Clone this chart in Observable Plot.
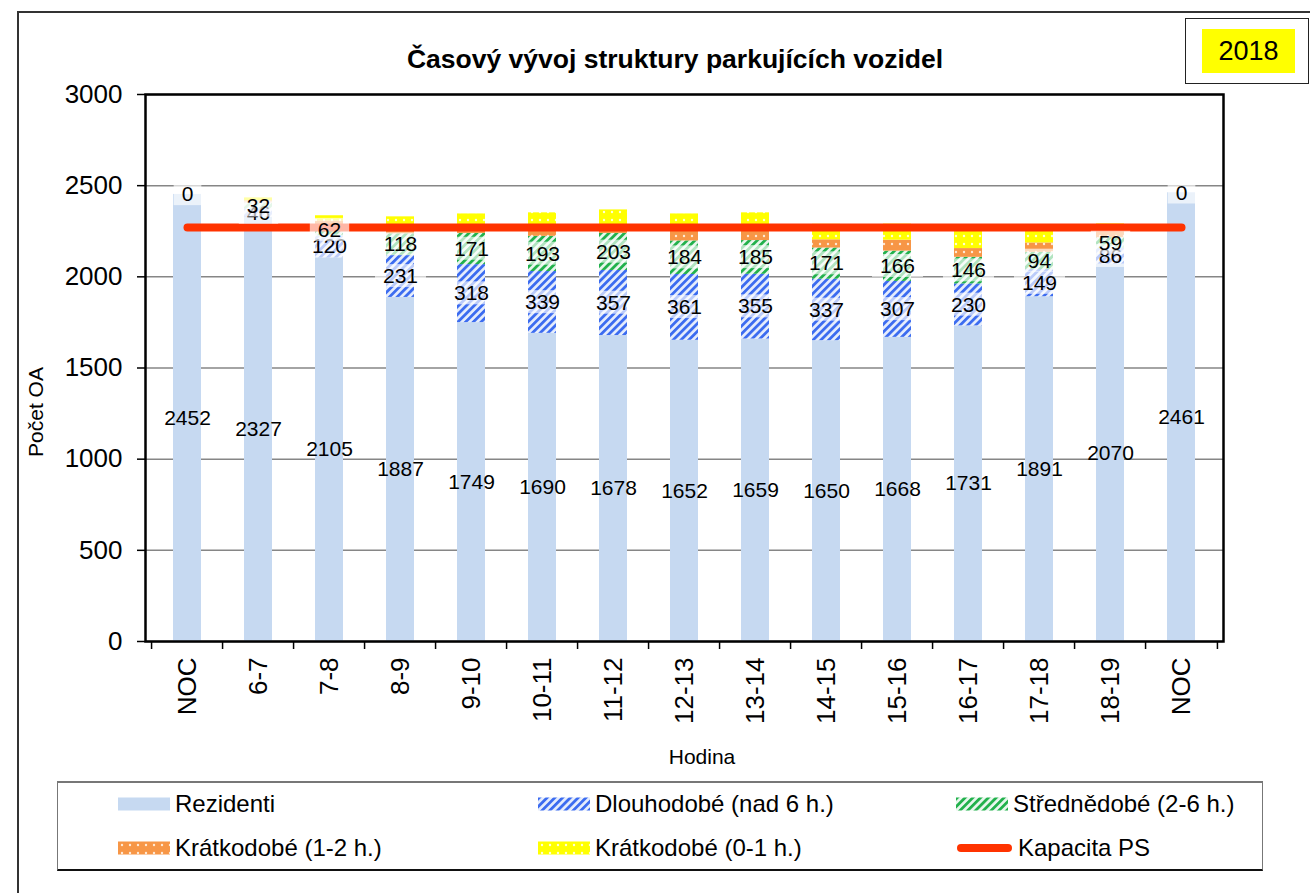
<!DOCTYPE html>
<html>
<head>
<meta charset="utf-8">
<script src="https://cdn.jsdelivr.net/npm/d3@7"></script>
<script src="https://cdn.jsdelivr.net/npm/@observablehq/plot@0.6"></script>
<style>
  html, body { margin: 0; padding: 0; background: #fff; }
  body { font-family: "Liberation Sans", Arial, sans-serif; color: #000; }
  #wrap { position: relative; width: 1310px; height: 893px; overflow: hidden; }
  #chart { position: absolute; left: 0; top: 0; }
  .abs { position: absolute; white-space: nowrap; }
  #outer { position: absolute; left: 17px; top: 11px; width: 1400px; height: 1000px; border-left: 2px solid #333; border-top: 2px solid #333; }
  #title { left: 675px; top: 44px; transform: translateX(-50%); font-weight: bold; font-size: 26.5px; }
  #yearbox { left: 1185px; top: 18px; width: 122px; height: 64px; border: 1.5px solid #222; background: #fff; }
  #yearfill { position: absolute; left: 16px; top: 10px; width: 93px; height: 44px; background: #ffff00; font-size: 27px; line-height: 44px; text-align: center; }
  #xtitle { left: 702px; top: 745px; transform: translateX(-50%); font-size: 21px; }
  #ytitle { left: 36px; top: 412px; transform: translate(-50%, -50%) rotate(-90deg); font-size: 21px; }
  #legend { left: 57px; top: 781px; width: 1204px; height: 86px; border-top: 2px solid #777; border-bottom: 2px solid #111; border-left: 1px solid #777; border-right: 1px solid #777; }
  .item { position: absolute; display: flex; align-items: center; font-size: 24px; }
  .item svg { margin-right: 5px; }
</style>
</head>
<body>
<svg width="0" height="0" style="position:absolute">
  <defs>
    <pattern id="pDl" width="5.5" height="5.5" patternUnits="userSpaceOnUse" patternTransform="rotate(45)">
      <rect width="5.5" height="5.5" fill="#e6edfc"/>
      <rect width="2.8" height="5.5" fill="#3c6cf0"/>
    </pattern>
    <pattern id="pSt" width="5.5" height="5.5" patternUnits="userSpaceOnUse" patternTransform="rotate(45)">
      <rect width="5.5" height="5.5" fill="#e9f7ee"/>
      <rect width="2.8" height="5.5" fill="#22b14c"/>
    </pattern>
    <pattern id="pK12" width="8" height="8" patternUnits="userSpaceOnUse">
      <rect width="8" height="8" fill="#f79646"/>
      <circle cx="4" cy="4" r="1.2" fill="#ffe9d6"/>
    </pattern>
    <pattern id="pK01" width="8" height="8" patternUnits="userSpaceOnUse">
      <rect width="8" height="8" fill="#ffff00"/>
      <circle cx="4" cy="4" r="1.2" fill="#ffffd8"/>
    </pattern>
  </defs>
</svg>
<div id="wrap">
  <div id="outer"></div>
  <div id="chart"></div>
</div>
<script>
// ---- data ----
const hours = ["NOC", "6-7", "7-8", "8-9", "9-10", "10-11", "11-12", "12-13", "13-14", "14-15", "15-16", "16-17", "17-18", "18-19", "NOC"];
const seriesNames = ["Rezidenti", "Dlouhodobé (nad 6 h.)", "Střednědobé (2-6 h.)", "Krátkodobé (1-2 h.)", "Krátkodobé (0-1 h.)"];
const rezidenti    = [2452, 2327, 2105, 1887, 1749, 1690, 1678, 1652, 1659, 1650, 1668, 1731, 1891, 2070, 2461];
const dlouhodobe   = [0, 46, 120, 231, 318, 339, 357, 361, 355, 337, 307, 230, 149, 86, 0];
const strednedobe  = [0, 32, 62, 118, 171, 193, 203, 184, 185, 171, 166, 146, 94, 59, 0];
const kratkodobe12 = [0, 12, 20, 48, 27, 41, 36, 71, 74, 45, 60, 48, 52, 40, 0];
const kratkodobe01 = [0, 16, 28, 45, 80, 88, 93, 77, 78, 85, 88, 100, 80, 35, 0];
const kapacitaPS = 2270;
const kapacitaName = "Kapacita PS";
const yTicks = [0, 500, 1000, 1500, 2000, 2500, 3000];
const titleText = "Časový vývoj struktury parkujících vozidel";
const yearText = "2018";
const xTitle = "Hodina";
const yTitle = "Počet OA";

// ---- styles ----
const fills = ["#c6d9f1", "url(#pDl)", "url(#pSt)", "url(#pK12)", "url(#pK01)"];
const lineColor = "#ff3300";

const allValues = [rezidenti, dlouhodobe, strednedobe, kratkodobe12, kratkodobe01];
const table = [];
seriesNames.forEach((s, si) => {
  hours.forEach((h, i) => table.push({key: i, hour: h, series: s, si, value: allValues[si][i]}));
});
const capData = hours.map((h, i) => ({key: i, value: kapacitaPS}));

const W = 1310, H = 893, mL = 145, mR = 87, mT = 94, mB = 252;
const step = (W - mL - mR) / hours.length;
const font = "Liberation Sans, Arial, sans-serif";

function labelMark(si, show, cls) {
  return Plot.text(table, Plot.stackY({
    x: "key", y: "value", z: "series",
    text: d => (d.si === si && show(d)) ? String(d.value) : "",
    fontSize: 21, fill: "#000", className: cls
  }));
}

const plot = Plot.plot({
  width: W, height: H,
  marginLeft: mL, marginRight: mR, marginTop: mT, marginBottom: mB,
  style: {fontFamily: font, background: "transparent", overflow: "visible", color: "#000"},
  x: {type: "band", domain: d3.range(hours.length), paddingInner: 0.61, paddingOuter: 0.305},
  y: {domain: [0, 3000]},
  color: {type: "ordinal", domain: seriesNames, range: fills},
  marks: [
    Plot.gridY(yTicks, {stroke: "#868686", strokeOpacity: 1, strokeWidth: 1.5}),
    Plot.barY(table, Plot.stackY({x: "key", y: "value", z: "series", fill: "series"})),
    Plot.lineY(capData, {x: "key", y: "value", stroke: lineColor, strokeWidth: 8, strokeLinecap: "round"}),
    Plot.frame({stroke: "#000", strokeWidth: 2.5}),
    Plot.axisY(yTicks, {tickSize: 8, tickPadding: 15, fontSize: 26, label: null, strokeWidth: 1.5, tickFormat: d => String(d)}),
    Plot.axisX(d3.range(hours.length), {tickSize: 0, tickPadding: 16, tickRotate: -90, fontSize: 26, tickFormat: i => hours[i], label: null}),
    Plot.axisX(d3.range(hours.length), {tickSize: 8, tickFormat: () => "", dx: -step / 2, label: null, strokeWidth: 1.5}),
    Plot.axisX([hours.length - 1], {tickSize: 8, tickFormat: () => "", dx: step / 2, label: null, strokeWidth: 1.5}),
    labelMark(0, d => true, "lbl0"),
    labelMark(1, d => true, "lblbox1"),
    labelMark(2, d => d.value > 0, "lblbox2")
  ]
});
document.getElementById("chart").appendChild(plot);

// translucent label boxes behind the stacked-segment data labels
Array.from(plot.querySelectorAll("g"))
  .filter(g => /lblbox[0-9]/.test(g.getAttribute("class") || ""))
  .forEach(g => {
    g.querySelectorAll("text").forEach(t => {
      if (!t.textContent) return;
      const b = t.getBBox();
      const r = document.createElementNS("http://www.w3.org/2000/svg", "rect");
      r.setAttribute("x", b.x - 8);
      r.setAttribute("y", b.y);
      r.setAttribute("width", b.width + 16);
      r.setAttribute("height", b.height);
      r.setAttribute("fill", "#fff");
      r.setAttribute("fill-opacity", "0.65");
      const tr = t.getAttribute("transform");
      if (tr) r.setAttribute("transform", tr);
      t.parentNode.insertBefore(r, t);
    });
  });

// ---- HTML texts: title, year, axis titles, legend ----
const wrap = document.getElementById("wrap");
function addDiv(id, text) {
  const d = document.createElement("div");
  d.className = "abs"; d.id = id; d.textContent = text;
  wrap.appendChild(d); return d;
}
addDiv("title", titleText);
const yb = addDiv("yearbox", "");
const yf = document.createElement("div"); yf.id = "yearfill"; yf.textContent = yearText; yb.appendChild(yf);
addDiv("xtitle", xTitle);
addDiv("ytitle", yTitle);

const legend = addDiv("legend", "");
const legendItems = [
  {name: seriesNames[0], fill: fills[0], col: 0, row: 0},
  {name: seriesNames[1], fill: fills[1], col: 1, row: 0},
  {name: seriesNames[2], fill: fills[2], col: 2, row: 0},
  {name: seriesNames[3], fill: fills[3], col: 0, row: 1},
  {name: seriesNames[4], fill: fills[4], col: 1, row: 1},
  {name: kapacitaName, line: true, col: 2, row: 1}
];
const colX = [60, 480, 898];
const rowY = [21, 65];
legendItems.forEach(it => {
  const d = document.createElement("div");
  d.className = "item";
  d.style.left = colX[it.col] + "px";
  d.style.top = (rowY[it.row] - 14) + "px";
  d.style.height = "28px";
  const sw = it.line
    ? `<svg width="57" height="14"><line x1="5" y1="7" x2="52" y2="7" stroke="${lineColor}" stroke-width="8" stroke-linecap="round"/></svg>`
    : `<svg width="52" height="14"><rect x="0" y="0.5" width="52" height="13" fill="${it.fill}"/></svg>`;
  d.innerHTML = sw + `<span>${it.name}</span>`;
  legend.appendChild(d);
});
</script>
</body>
</html>
